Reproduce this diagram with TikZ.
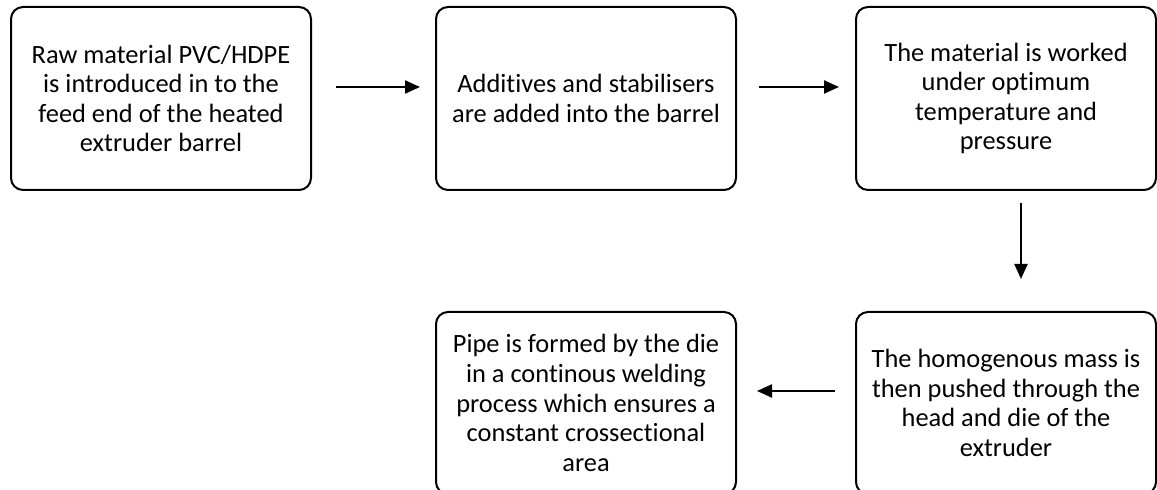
\documentclass[tikz,border=0pt]{standalone}
\usepackage{fontspec}
\setmainfont{Carlito}[Ligatures=NoCommon]
\usetikzlibrary{arrows.meta}

\begin{document}
\begin{tikzpicture}[x=0.5pt, y=0.5pt,
  stage/.style={draw, line width=1pt, rounded corners=6pt, minimum width=150pt,
    align=center, inner sep=0pt, font=\fontsize{13.2}{14.8}\selectfont},
  topstage/.style={stage, minimum height=91.5pt},
  lowstage/.style={stage, minimum height=91pt},
  flow/.style={-{Triangle[length=7.5pt,width=6.5pt]}, line width=1.1pt}]
\useasboundingbox (0,0) rectangle (1157,490);
% upper row
\node[topstage] (raw) at (161,391.5) {Raw material PVC/HDPE\\is introduced in to the\\feed end of the heated\\extruder barrel};
\node[topstage] (add) at (586,391.5) {Additives and stabilisers\\are added into the barrel};
\node[topstage] (work) at (1006,391.5) {The material is worked\\under optimum\\temperature and\\pressure};
% lower row
\node[lowstage] (push) at (1006,87) {The homogenous mass is\\then pushed through the\\head and die of the\\extruder};
\node[lowstage] (pipe) at (586,87) {Pipe is formed by the die\\in a continous welding\\process which ensures a\\constant crossectional\\area};
% arrows
\draw[flow, shorten <=12pt, shorten >=7.5pt] ([yshift=5.75pt]raw.east) -- ([yshift=5.75pt]add.west);
\draw[flow, shorten <=11pt, shorten >=8pt] ([yshift=5.75pt]add.east) -- ([yshift=5.75pt]work.west);
\draw[flow, shorten <=6pt, shorten >=16pt] ([xshift=7.5pt]work.south) -- ([xshift=7.5pt]push.north);
\draw[flow, shorten <=10pt, shorten >=10pt] ([yshift=6pt]push.west) -- ([yshift=6pt]pipe.east);
\end{tikzpicture}
\end{document}
